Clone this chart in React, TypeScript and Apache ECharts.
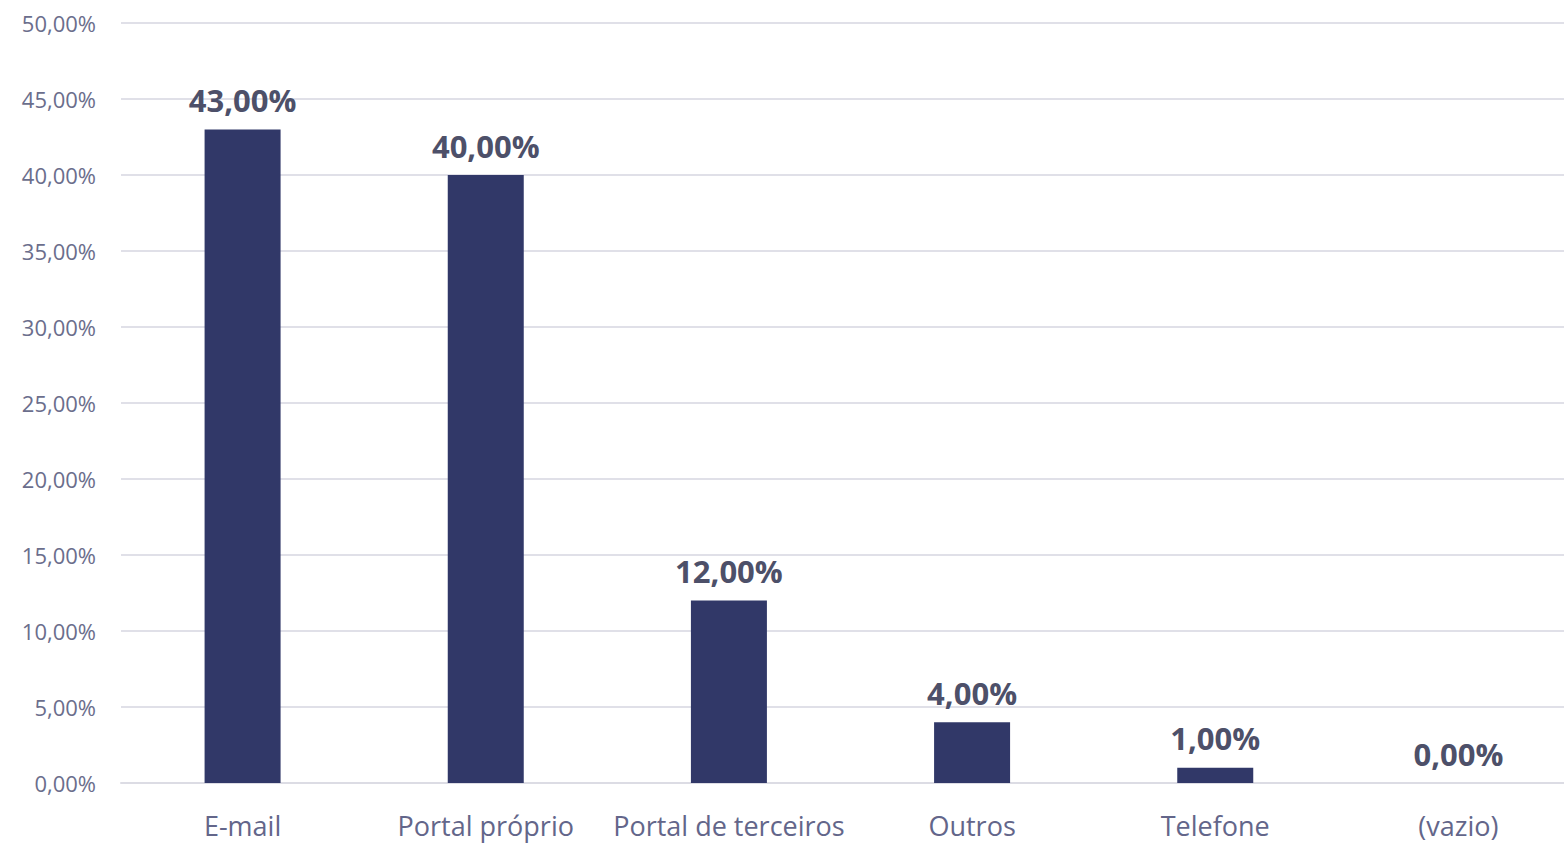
import React, { useEffect, useRef } from "react";
import * as echarts from "echarts";

const categories = ["E-mail", "Portal próprio", "Portal de terceiros", "Outros", "Telefone", "(vazio)"];
const values = [43, 40, 12, 4, 1, 0];
const yMin = 0;
const yMax = 50;
const yInterval = 5;

const fmt = (v: number) => v.toFixed(2).replace(".", ",") + "%";

export default function App() {
  const ref = useRef<HTMLDivElement>(null);
  useEffect(() => {
    if (!ref.current) return;
    const chart = echarts.init(ref.current, undefined, { renderer: "svg" });
    chart.setOption({
      animation: false,
      backgroundColor: "#ffffff",
      grid: { left: 121, right: 0, top: 23, bottom: 60, containLabel: false },
      xAxis: {
        type: "category",
        data: categories,
        axisLine: { show: true, lineStyle: { color: "#dcdce4", width: 2 } },
        axisTick: { show: false },
        axisLabel: {
          color: "#63668a",
          fontFamily: "Open Sans",
          fontSize: 27,
          margin: 29,
          interval: 0,
        },
      },
      yAxis: {
        type: "value",
        min: yMin,
        max: yMax,
        interval: yInterval,
        axisLine: { show: false },
        axisTick: { show: false },
        splitLine: { lineStyle: { color: "#e0e0e8", width: 2 } },
        axisLabel: {
          color: "#6b6e8c",
          fontFamily: "Open Sans",
          fontSize: 22,
          margin: 25,
          formatter: (v: number) => fmt(v),
        },
      },
      series: [
        {
          type: "bar",
          data: values,
          barWidth: 76,
          itemStyle: { color: "#313868" },
          label: {
            show: true,
            position: "top",
            distance: 14,
            color: "#4d5069",
            fontFamily: "Open Sans",
            fontWeight: "bold",
            fontSize: 31,
            formatter: (p: any) => fmt(p.value),
          },
        },
      ],
    });
    return () => chart.dispose();
  }, []);
  return (
    <div style={{ position: "fixed", left: 0, top: 0, width: 1564, height: 843, overflow: "hidden" }}>
      <div ref={ref} style={{ width: 1580, height: 843 }} />
    </div>
  );
}
